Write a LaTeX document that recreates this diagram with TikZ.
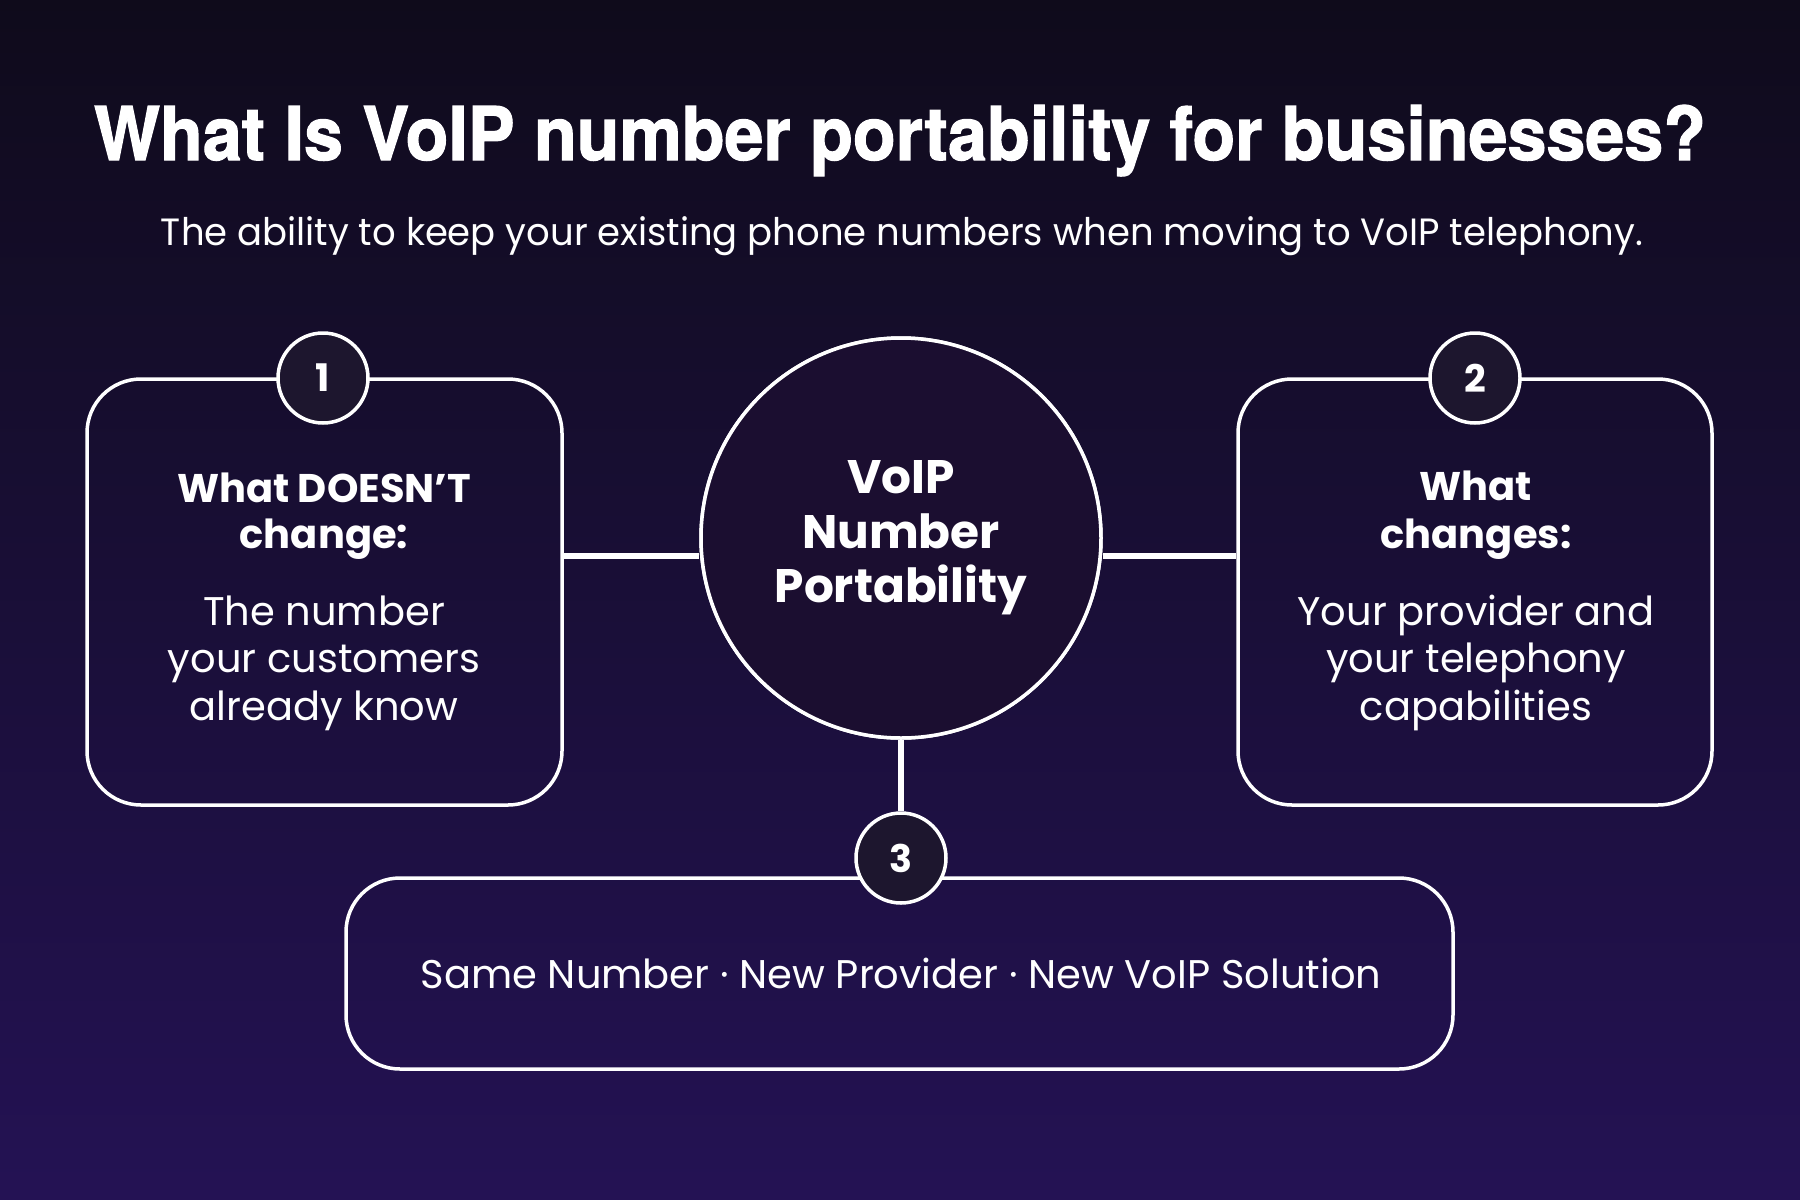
\documentclass[tikz,border=0pt]{standalone}
\usepackage{fontspec}
\usepackage{graphicx}
\setmainfont{Poppins}
\newfontfamily\titlefont[BoldFeatures={FakeBold=1.6}]{TeX Gyre Heros}
\definecolor{bgtop}{RGB}{15,11,27}
\definecolor{bgmid}{RGB}{26,14,52}
\definecolor{bgbot}{RGB}{36,18,84}
\definecolor{circfill}{RGB}{27,14,48}
\definecolor{numfill}{RGB}{29,22,46}
\tikzset{
  card/.style={draw=white, line width=1.75pt, rounded corners=27pt, inner sep=0pt},
  numc/.style={circle, draw=white, fill=numfill, line width=1.75pt, minimum size=45pt, inner sep=0pt, text=white, font=\bfseries\fontsize{19pt}{19pt}\selectfont},
  hub/.style={circle, draw=white, fill=circfill, line width=1.75pt, minimum size=200pt, inner sep=0pt},
  conn/.style={draw=white, line width=3pt},
  hubtxt/.style={anchor=base, text=white, inner sep=0pt, font=\bfseries\fontsize{23.5pt}{27pt}\selectfont},
  headtxt/.style={anchor=base, text=white, inner sep=0pt, font=\bfseries\fontsize{20pt}{24pt}\selectfont},
  bodytxt/.style={anchor=base, text=white, inner sep=0pt, font=\fontsize{20pt}{24pt}\selectfont},
}
\begin{document}
\begin{tikzpicture}[x=0.5pt,y=-0.5pt]
\shade[top color=bgtop, middle color=bgmid, bottom color=bgbot] (0,0) rectangle (1800,1200);
\useasboundingbox (0,0) rectangle (1800,1200);

% title and subtitle
\node[anchor=base, text=white, inner sep=0pt] (title) at (900,160)
  {\resizebox{806pt}{\height}{\titlefont\bfseries\fontsize{37pt}{40pt}\selectfont What Is VoIP number portability for businesses?}};
\node[anchor=base, text=white, inner sep=0pt] (subtitle) at (902,245)
  {\resizebox{741pt}{\height}{\fontsize{19pt}{22pt}\selectfont The ability to keep your existing phone numbers when moving to VoIP telephony.}};

% boxes
\node[card, minimum width=237.5pt, minimum height=213pt] (box1) at (324.5,592) {};
\node[card, minimum width=237pt, minimum height=213pt] (box2) at (1475,592) {};
\node[card, minimum width=553.5pt, minimum height=95.5pt] (box3) at (899.5,973.5) {};

% hub
\node[hub] (hub) at (901,538) {};
\coordinate (cy) at (0,556);
\draw[conn] (box1.east |- cy) -- (hub.west |- cy);
\draw[conn] (hub.east |- cy) -- (box2.west |- cy);
\node[hub] (hubtop) at (hub) {};

% number circles
\node[numc] (n1) at (323,378) {1};
\node[numc] (n2) at (1475,378) {2};
\node[numc] (n3) at (901,858) {3};
\draw[conn] (hubtop.south) -- (n3.north);

% hub text
\node[hubtxt] (hubA) at (901,493) {VoIP};
\node[hubtxt] (hubB) at (901,548) {Number};
\node[hubtxt] (hubC) at (901,602) {Portability};

% box 1 text
\node[headtxt] (h1a) at (324,502) {What DOESN’T};
\node[headtxt] (h1b) at (324,548) {change:};
\node[bodytxt] (b1a) at (324,625) {The number};
\node[bodytxt] (b1b) at (324,672) {your customers};
\node[bodytxt] (b1c) at (324,720) {already know};

% box 2 text
\node[headtxt] (h2a) at (1476,500) {What};
\node[headtxt] (h2b) at (1476,548) {changes:};
\node[bodytxt] (b2a) at (1476,625) {Your provider and};
\node[bodytxt] (b2b) at (1476,672) {your telephony};
\node[bodytxt] (b2c) at (1476,720) {capabilities};

% box 3 text
\node[bodytxt] (b3) at (901,988) {Same Number · New Provider · New VoIP Solution};
\end{tikzpicture}
\end{document}
